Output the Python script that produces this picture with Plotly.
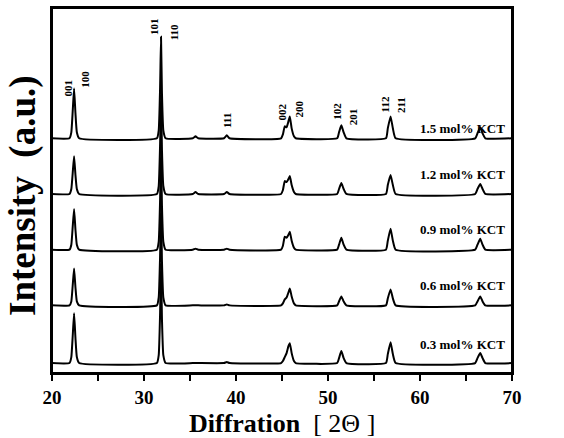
import plotly.graph_objects as go

# 2-theta sampling points (degrees) shared by every pattern
two_theta = [20.0, 21.9, 22.1, 22.25, 22.4, 22.55, 22.7, 22.95,
             31.4, 31.6, 31.75, 31.85, 31.95, 32.1, 32.35,
             35.3, 35.6, 35.9, 38.7, 39.0, 39.3,
             44.9, 45.1, 45.3, 45.5, 45.7, 45.85, 46.05, 46.3, 46.5,
             51.0, 51.2, 51.45, 51.7, 52.0,
             56.3, 56.5, 56.8, 57.05, 57.35,
             66.0, 66.25, 66.55, 66.8, 67.1,
             70.0]

# measured intensities (a.u.) for each KCT content
int_03 = [0, 0, 6, 27, 50, 25, 6, 0,
          0, 8, 50, 100, 45, 8, 0,
          0, 0, 0, 0, 1, 0,
          0, 2, 6, 10, 17, 20, 10, 2, 0,
          0, 5, 12, 5, 0,
          0, 9, 21, 9, 0,
          0, 5, 10, 5, 0,
          0]
int_06 = [0, 0, 4, 20, 37, 18, 4, 0,
          0, 8, 50, 100, 45, 8, 0,
          0, 0, 0, 0, 1, 0,
          0, 2, 6, 8, 13, 17, 9, 2, 0,
          0, 4, 9, 4, 0,
          0, 7, 16, 7, 0,
          0, 4, 9, 4, 0,
          0]
int_09 = [0, 0, 5, 23, 41, 20, 5, 0,
          0, 8, 50, 100, 45, 8, 0,
          0, 1, 0, 0, 1, 0,
          0, 4, 13, 12, 15, 18, 9, 2, 0,
          0, 5, 12, 5, 0,
          0, 9, 21, 9, 0,
          0, 5, 11, 5, 0,
          0]
int_12 = [0, 0, 5, 21, 38, 19, 5, 0,
          0, 8, 50, 100, 45, 8, 0,
          0, 2, 0, 0, 2, 0,
          0, 4, 13, 12, 15, 18, 9, 2, 0,
          0, 5, 11, 5, 0,
          0, 9, 19, 9, 0,
          0, 5, 10, 5, 0,
          0]
int_15 = [0, 0, 6, 27, 50, 25, 6, 0,
          0, 8, 51, 102, 46, 8, 0,
          0, 2, 0, 0, 3, 0,
          0, 4, 12, 11, 17, 22, 10, 2, 0,
          0, 6, 13, 6, 0,
          0, 10, 22, 10, 0,
          0, 5, 11, 5, 0,
          0]

sample_labels = ["0.3 mol% KCT", "0.6 mol% KCT", "0.9 mol% KCT",
                 "1.2 mol% KCT", "1.5 mol% KCT"]
patterns = [int_03, int_06, int_09, int_12, int_15]
stack_offsets = [10, 68, 124, 180, 236]
label_heights = [29, 88, 144, 200, 246]

# Miller indices marked on the top pattern
hkl_labels = ["001", "100", "101", "110", "111", "002", "200",
              "102", "201", "112", "211"]
hkl_x = [21.74, 23.5, 31.1, 33.2, 39.1, 45.0, 46.85, 51.0, 52.8, 56.3, 58.0]
hkl_y = [286, 295, 348, 343, 254, 262, 265, 263, 258, 270, 269]

# tick marks every 5 degrees, labelled every 10
tick_vals = [20, 25, 30, 35, 40, 45, 50, 55, 60, 65, 70]
tick_text = ["<b>20</b>", "", "<b>30</b>", "", "<b>40</b>", "",
             "<b>50</b>", "", "<b>60</b>", "", "<b>70</b>"]

SERIF = "Liberation Serif"

fig = go.Figure()
for name, vals, off in zip(sample_labels, patterns, stack_offsets):
    fig.add_trace(go.Scatter(
        x=two_theta, y=[v + off for v in vals], mode="lines", name=name,
        line=dict(color="black", width=2, shape="spline", smoothing=0.4),
        showlegend=False))

annotations = []
for name, h in zip(sample_labels, label_heights):
    annotations.append(dict(
        x=69.5, y=h, xref="x", yref="y", text="<b>%s</b>" % name,
        showarrow=False, xanchor="right", yanchor="middle",
        font=dict(family=SERIF, size=13, color="black")))
for t, hx, hy in zip(hkl_labels, hkl_x, hkl_y):
    annotations.append(dict(
        x=hx, y=hy, xref="x", yref="y", text="<b>%s</b>" % t,
        showarrow=False, textangle=-90, xanchor="center", yanchor="middle",
        font=dict(family=SERIF, size=11, color="black")))
# axis titles
annotations.append(dict(
    x=0, y=0.485, xref="paper", yref="paper", xshift=-29,
    text="<b>Intensity  (a.u.)</b>", showarrow=False, textangle=-90,
    xanchor="center", yanchor="middle",
    font=dict(family=SERIF, size=37, color="black")))
annotations.append(dict(
    x=0.5, y=0, xref="paper", yref="paper", yshift=-50,
    text="<b>Diffration</b>  [ 2Θ ]", showarrow=False,
    xanchor="center", yanchor="middle",
    font=dict(family=SERIF, size=26, color="black")))

# frame around the plotting area
frame = [dict(type="rect", xref="paper", yref="paper",
              x0=0, x1=1, y0=0, y1=1, layer="above",
              line=dict(color="black", width=2))]

fig.update_layout(
    width=564, height=438,
    margin=dict(l=52, r=52, t=6, b=65),
    paper_bgcolor="white", plot_bgcolor="white",
    annotations=annotations,
    shapes=frame,
    xaxis=dict(
        range=[20, 70], tickmode="array", tickvals=tick_vals,
        ticktext=tick_text,
        ticks="outside", ticklen=6, tickwidth=2, tickcolor="black",
        showline=True, linewidth=2, linecolor="black", mirror=True,
        showgrid=False, zeroline=False,
        tickfont=dict(family=SERIF, size=19, color="black")),
    yaxis=dict(
        range=[0, 367], showticklabels=False,
        showline=True, linewidth=2, linecolor="black", mirror=True,
        showgrid=False, zeroline=False),
)

fig.write_html("out.html")
